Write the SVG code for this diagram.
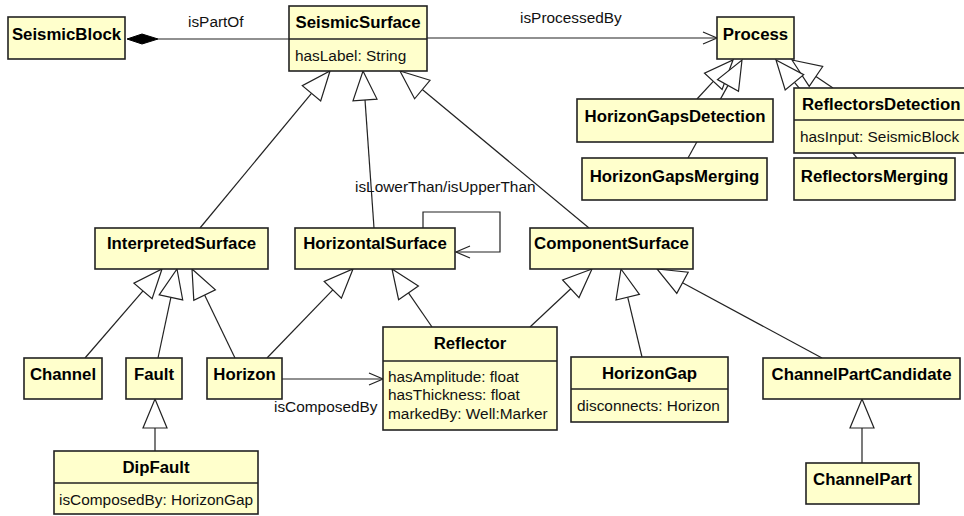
<svg xmlns="http://www.w3.org/2000/svg" width="964" height="516" viewBox="0 0 964 516">
<style>
.box{fill:#ffffcc;stroke:#222;stroke-width:1.6}
.div{stroke:#222;stroke-width:1.4}
.t{font-family:"Liberation Sans",Arial,sans-serif;font-weight:bold;font-size:16.8px;fill:#000;text-anchor:middle}
.a{font-family:"Liberation Sans",Arial,sans-serif;font-size:15.4px;fill:#111}
.l{font-family:"Liberation Sans",Arial,sans-serif;font-size:15.4px;fill:#111}
.ln{fill:none;stroke:#222;stroke-width:1.2}
.tri{fill:#fff;stroke:#222;stroke-width:1.2}
.dia{fill:#000;stroke:#000;stroke-width:1}
</style>
<rect width="964" height="516" fill="#fff"/>
<g id="connectors">
  <!-- isPartOf composition -->
  <line class="ln" x1="158" y1="39" x2="289" y2="39"/>
  <polygon class="dia" points="127,39 142,34 158,39 142,44"/>
  <text class="l" x="188" y="27">isPartOf</text>
  <!-- isProcessedBy -->
  <line class="ln" x1="427" y1="38" x2="717" y2="38"/>
  <polyline class="ln" points="703,32 717,38 703,44"/>
  <text class="l" x="520" y="23">isProcessedBy</text>
  <!-- generalizations to SeismicSurface -->
  <line class="ln" x1="200" y1="228" x2="311.5" y2="93.3"/>
  <polygon class="tri" points="330,71 320.7,101 302.3,85.6"/>
  <line class="ln" x1="374" y1="228" x2="365" y2="99.9"/>
  <polygon class="tri" points="363,71 377,99.1 353,100.8"/>
  <line class="ln" x1="589" y1="228" x2="422.3" y2="89.5"/>
  <polygon class="tri" points="400,71 430,80.3 414.6,98.8"/>
  <!-- generalizations to Process -->
  <line class="ln" x1="697" y1="99" x2="713.3" y2="81.3"/>
  <polygon class="tri" points="733,60 722.1,89.4 704.5,73.2"/>
  <line class="ln" x1="688" y1="158" x2="728" y2="85.4"/>
  <polygon class="tri" points="742,60 738.5,91.2 717.5,79.6"/>
  <line class="ln" x1="833" y1="88" x2="815.9" y2="76.4"/>
  <polygon class="tri" points="792,60 822.7,66.5 809.2,86.3"/>
  <line class="ln" x1="857" y1="158" x2="794.5" y2="82.4"/>
  <polygon class="tri" points="776,60 803.7,74.7 785.2,90"/>
  <!-- self association isLowerThan/isUpperThan -->
  <path class="ln" d="M423,228 V212 H500 V252 H456"/>
  <polyline class="ln" points="470,246 456,252 470,258"/>
  <text class="l" x="355" y="192">isLowerThan/isUpperThan</text>
  <!-- generalizations to InterpretedSurface -->
  <line class="ln" x1="85" y1="358" x2="143" y2="290.9"/>
  <polygon class="tri" points="162,269 152.1,298.8 133.9,283.1"/>
  <line class="ln" x1="158" y1="358" x2="170.9" y2="297.4"/>
  <polygon class="tri" points="177,269 182.7,299.9 159.2,294.9"/>
  <line class="ln" x1="235" y1="358" x2="204.6" y2="295.1"/>
  <polygon class="tri" points="192,269 215.4,289.9 193.8,300.3"/>
  <!-- generalizations to HorizontalSurface -->
  <line class="ln" x1="267" y1="358" x2="332.8" y2="289.8"/>
  <polygon class="tri" points="353,269 341.4,298.2 324.2,281.5"/>
  <line class="ln" x1="432" y1="327" x2="408.5" y2="292.9"/>
  <polygon class="tri" points="392,269 418.4,286.1 398.6,299.7"/>
  <!-- generalizations to ComponentSurface -->
  <line class="ln" x1="530" y1="327" x2="570.8" y2="288.8"/>
  <polygon class="tri" points="592,269 579,297.6 562.6,280"/>
  <line class="ln" x1="642" y1="357" x2="627.7" y2="297.2"/>
  <polygon class="tri" points="621,269 639.4,294.4 616,300"/>
  <line class="ln" x1="822" y1="358" x2="682.5" y2="282.8"/>
  <polygon class="tri" points="657,269 688.2,272.2 676.8,293.4"/>
  <!-- DipFault -> Fault -->
  <line class="ln" x1="155" y1="451" x2="155" y2="428"/>
  <polygon class="tri" points="155,399 167,428 143,428"/>
  <!-- ChannelPart -> ChannelPartCandidate -->
  <line class="ln" x1="862" y1="463" x2="862" y2="428"/>
  <polygon class="tri" points="862,399 874,428 850,428"/>
  <!-- Horizon isComposedBy Reflector -->
  <line class="ln" x1="282" y1="379" x2="383" y2="379"/>
  <polyline class="ln" points="369,373 383,379 369,385"/>
  <text class="l" x="274" y="412">isComposedBy</text>
</g>
<g id="SeismicBlock">
  <rect class="box" x="8" y="17" width="117" height="42"/>
  <text class="t" x="66.5" y="40">SeismicBlock</text>
</g>
<g id="SeismicSurface">
  <rect class="box" x="289" y="6" width="138" height="65"/>
  <line class="div" x1="289" y1="39" x2="427" y2="39"/>
  <text class="t" x="358" y="28">SeismicSurface</text>
  <text class="a" x="295" y="61">hasLabel: String</text>
</g>
<g id="Process">
  <rect class="box" x="717" y="17" width="77" height="42"/>
  <text class="t" x="755.5" y="40">Process</text>
</g>
<g id="HorizonGapsDetection">
  <rect class="box" x="577" y="99" width="196" height="43"/>
  <text class="t" x="675" y="122">HorizonGapsDetection</text>
</g>
<g id="HorizonGapsMerging">
  <rect class="box" x="582" y="158" width="185" height="42"/>
  <text class="t" x="674.5" y="182">HorizonGapsMerging</text>
</g>
<g id="ReflectorsDetection">
  <rect class="box" x="794" y="88" width="180" height="65"/>
  <line class="div" x1="794" y1="120" x2="974" y2="120"/>
  <text class="t" x="802" y="110" style="text-anchor:start">ReflectorsDetection</text>
  <text class="a" x="800" y="142">hasInput: SeismicBlock</text>
</g>
<g id="ReflectorsMerging">
  <rect class="box" x="794" y="158" width="161" height="42"/>
  <text class="t" x="874.5" y="182">ReflectorsMerging</text>
</g>
<g id="InterpretedSurface">
  <rect class="box" x="95" y="228" width="173" height="41"/>
  <text class="t" x="181.5" y="249">InterpretedSurface</text>
</g>
<g id="HorizontalSurface">
  <rect class="box" x="295" y="228" width="160" height="41"/>
  <text class="t" x="375" y="249">HorizontalSurface</text>
</g>
<g id="ComponentSurface">
  <rect class="box" x="530" y="228" width="163" height="41"/>
  <text class="t" x="611.5" y="249">ComponentSurface</text>
</g>
<g id="Channel">
  <rect class="box" x="24" y="358" width="78" height="41"/>
  <text class="t" x="63" y="380">Channel</text>
</g>
<g id="Fault">
  <rect class="box" x="126" y="358" width="56" height="41"/>
  <text class="t" x="154" y="380">Fault</text>
</g>
<g id="Horizon">
  <rect class="box" x="207" y="358" width="75" height="41"/>
  <text class="t" x="244.5" y="380">Horizon</text>
</g>
<g id="Reflector">
  <rect class="box" x="383" y="327" width="174" height="103"/>
  <line class="div" x1="383" y1="361" x2="557" y2="361"/>
  <text class="t" x="470" y="349">Reflector</text>
  <text class="a" x="388" y="382">hasAmplitude: float</text>
  <text class="a" x="388" y="400">hasThickness: float</text>
  <text class="a" x="388" y="419">markedBy: Well:Marker</text>
</g>
<g id="HorizonGap">
  <rect class="box" x="571" y="357" width="157" height="65"/>
  <line class="div" x1="571" y1="389" x2="728" y2="389"/>
  <text class="t" x="649.5" y="379">HorizonGap</text>
  <text class="a" x="577" y="411">disconnects: Horizon</text>
</g>
<g id="ChannelPartCandidate">
  <rect class="box" x="763" y="358" width="197" height="41"/>
  <text class="t" x="861.5" y="380">ChannelPartCandidate</text>
</g>
<g id="ChannelPart">
  <rect class="box" x="806" y="463" width="113" height="41"/>
  <text class="t" x="862.5" y="485">ChannelPart</text>
</g>
<g id="DipFault">
  <rect class="box" x="54" y="451" width="204" height="63"/>
  <line class="div" x1="54" y1="483" x2="258" y2="483"/>
  <text class="t" x="156" y="473">DipFault</text>
  <text class="a" x="59" y="505">isComposedBy: HorizonGap</text>
</g>
</svg>
